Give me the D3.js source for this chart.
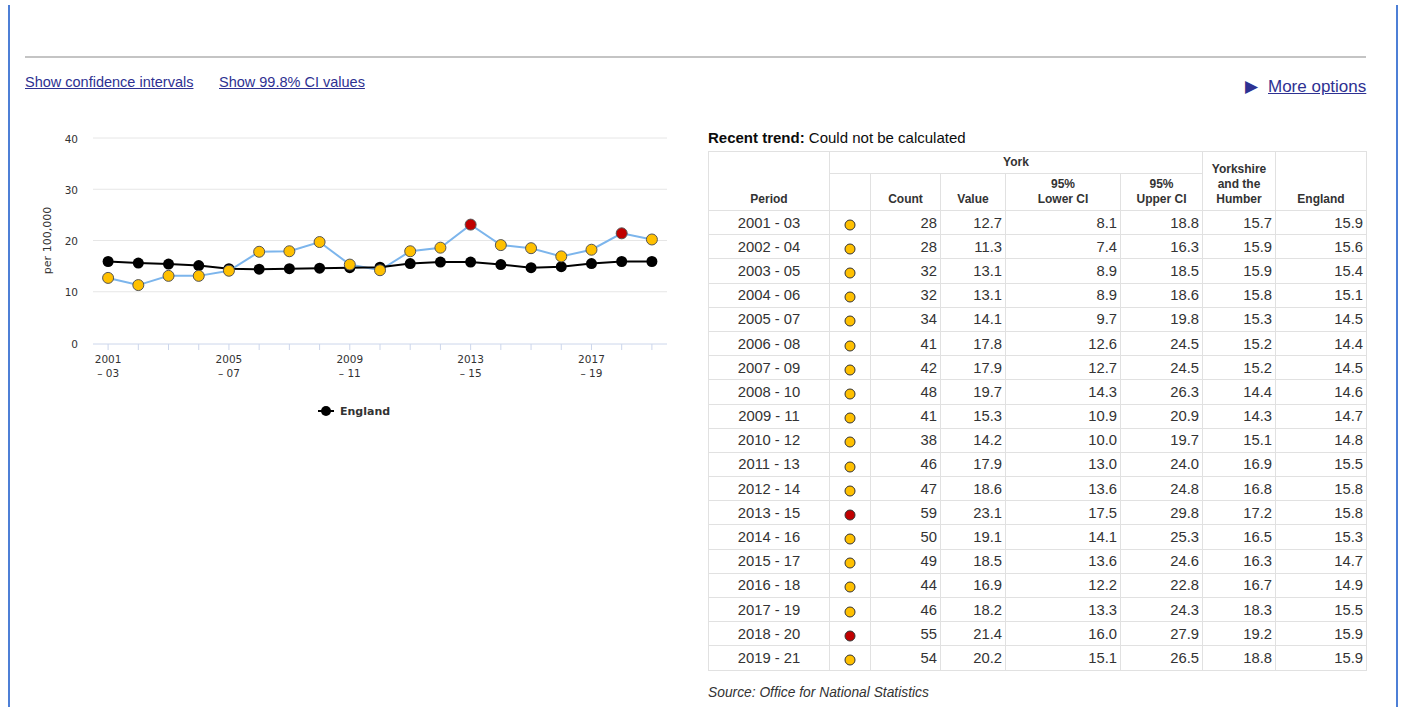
<!DOCTYPE html>
<html>
<head>
<meta charset="utf-8">
<script src="https://cdn.jsdelivr.net/npm/d3@7"></script>
<style>
	body { margin: 0; background: #fff; font-family: "Liberation Sans", Arial, sans-serif; color: #333; }
	#page { position: relative; width: 1403px; height: 707px; overflow: hidden; }
	.frame { position: absolute; top: 5px; bottom: 0; width: 2px; background: #4d7fd6; }
	.rule { position: absolute; left: 25px; top: 56px; width: 1341px; height: 2px; background: #c4c4c4; }
	.link { position: absolute; top: 74px; font-size: 14.5px; color: #2e3192; text-decoration: underline; }
	.more { position: absolute; top: 76px; left: 1245px; font-size: 17px; color: #2e3192; }
	.more span { text-decoration: underline; margin-left: 10px; }
	#chart { position: absolute; left: 0; top: 100px; }
	.trend { position: absolute; left: 708px; top: 129px; font-size: 15px; color: #0b0c0c; }
	table { position: absolute; left: 708px; top: 151px; border-collapse: collapse; font-size: 14.8px; table-layout: fixed; }
	th, td { border: 1px solid #e1e1e1; padding: 0 3px; color: #333; }
	th { font-size: 12px; font-weight: bold; vertical-align: bottom; text-align: center; line-height: 15px; padding-bottom: 3px; }
	td { height: 23.2px; text-align: right; }
	td.period { text-align: center; }
	td.mark { text-align: center; }
	.source { position: absolute; left: 708px; top: 685px; font-size: 13.8px; font-style: italic; color: #333; }
</style>
</head>
<body>
<div id="page">
	<div class="frame" style="left:8px"></div>
	<div class="frame" style="left:1396px"></div>
	<div class="rule"></div>
	<div class="link" style="left:25px">Show confidence intervals</div>
	<div class="link" style="left:219px">Show 99.8% CI values</div>
	<div class="more">&#9654;<span>More options</span></div>
	<svg id="chart" width="700" height="340"></svg>
	<div class="trend"><b>Recent trend:</b> Could not be calculated</div>
	<table id="tbl"></table>
	<div class="source">Source: Office for National Statistics</div>
</div>
<script>
const periods = ['2001 - 03', '2002 - 04', '2003 - 05', '2004 - 06', '2005 - 07', '2006 - 08', '2007 - 09',
	'2008 - 10', '2009 - 11', '2010 - 12', '2011 - 13', '2012 - 14', '2013 - 15', '2014 - 16', '2015 - 17',
	'2016 - 18', '2017 - 19', '2018 - 20', '2019 - 21'];
const count = [28, 28, 32, 32, 34, 41, 42, 48, 41, 38, 46, 47, 59, 50, 49, 44, 46, 55, 54];
const york = [12.7, 11.3, 13.1, 13.1, 14.1, 17.8, 17.9, 19.7, 15.3, 14.2, 17.9, 18.6, 23.1, 19.1, 18.5, 16.9, 18.2, 21.4, 20.2];
const lowerCI = [8.1, 7.4, 8.9, 8.9, 9.7, 12.6, 12.7, 14.3, 10.9, 10.0, 13.0, 13.6, 17.5, 14.1, 13.6, 12.2, 13.3, 16.0, 15.1];
const upperCI = [18.8, 16.3, 18.5, 18.6, 19.8, 24.5, 24.5, 26.3, 20.9, 19.7, 24.0, 24.8, 29.8, 25.3, 24.6, 22.8, 24.3, 27.9, 26.5];
const region = [15.7, 15.9, 15.9, 15.8, 15.3, 15.2, 15.2, 14.4, 14.3, 15.1, 16.9, 16.8, 17.2, 16.5, 16.3, 16.7, 18.3, 19.2, 18.8];
const england = [15.9, 15.6, 15.4, 15.1, 14.5, 14.4, 14.5, 14.6, 14.7, 14.8, 15.5, 15.8, 15.8, 15.3, 14.7, 14.9, 15.5, 15.9, 15.9];
const significance = ['similar', 'similar', 'similar', 'similar', 'similar', 'similar', 'similar', 'similar', 'similar',
	'similar', 'similar', 'similar', 'higher', 'similar', 'similar', 'similar', 'similar', 'higher', 'similar'];
const yTicks = [0, 10, 20, 30, 40];

const colours = d3.scaleOrdinal()
	.domain(['similar', 'higher'])
	.range(['#ffc000', '#c00000']);

// chart (svg sits at page y = 100)
const svg = d3.select('#chart');
const plotLeft = 93, plotRight = 667, plotTop = 38, plotBottom = 243;

const x = d3.scalePoint()
	.domain(periods)
	.range([plotLeft, plotRight])
	.padding(0.5);

const y = d3.scaleLinear()
	.domain([0, 40])
	.range([plotBottom, plotTop]);

svg.append('g')
	.selectAll('line')
	.data(yTicks.slice(1))
	.enter()
	.append('line')
	.attr('x1', plotLeft).attr('x2', plotRight)
	.attr('y1', d => y(d)).attr('y2', d => y(d))
	.attr('stroke', '#e6e6e6');

svg.append('g')
	.selectAll('text')
	.data(yTicks)
	.enter()
	.append('text')
	.attr('x', 78)
	.attr('y', d => y(d) + 4.5)
	.attr('text-anchor', 'end')
	.attr('font-family', 'DejaVu Sans')
	.attr('font-size', 10.5)
	.attr('fill', '#333')
	.text(d => d);

svg.append('text')
	.attr('transform', `translate(51, ${(plotTop + plotBottom) / 2}) rotate(-90)`)
	.attr('text-anchor', 'middle')
	.attr('font-family', 'DejaVu Sans')
	.attr('font-size', 11)
	.attr('fill', '#333')
	.text('per 100,000');

// x axis
svg.append('line')
	.attr('x1', plotLeft).attr('x2', plotRight)
	.attr('y1', plotBottom + 1).attr('y2', plotBottom + 1)
	.attr('stroke', '#ccd6eb');

svg.append('g')
	.selectAll('line')
	.data(periods)
	.enter()
	.append('line')
	.attr('x1', d => x(d)).attr('x2', d => x(d))
	.attr('y1', plotBottom + 1).attr('y2', plotBottom + 7)
	.attr('stroke', '#ccd6eb');

const xLabels = svg.append('g')
	.selectAll('text')
	.data(periods.filter((d, i) => i % 4 == 0))
	.enter()
	.append('text')
	.attr('text-anchor', 'middle')
	.attr('font-family', 'DejaVu Sans')
	.attr('font-size', 10.5)
	.attr('fill', '#333');

xLabels.append('tspan')
	.attr('x', d => x(d))
	.attr('y', plotBottom + 20)
	.text(d => d.slice(0, 4));

xLabels.append('tspan')
	.attr('x', d => x(d))
	.attr('y', plotBottom + 34)
	.text(d => '\u2013 ' + d.slice(-2));

// series
const line = d3.line()
	.x((d, i) => x(periods[i]))
	.y(d => y(d));

svg.append('path')
	.datum(york)
	.attr('d', line)
	.attr('fill', 'none')
	.attr('stroke', '#7cb5ec')
	.attr('stroke-width', 2);

svg.append('path')
	.datum(england)
	.attr('d', line)
	.attr('fill', 'none')
	.attr('stroke', '#000')
	.attr('stroke-width', 2);

svg.append('g')
	.selectAll('circle')
	.data(england)
	.enter()
	.append('circle')
	.attr('cx', (d, i) => x(periods[i]))
	.attr('cy', d => y(d))
	.attr('r', 5.5)
	.attr('fill', '#000');

svg.append('g')
	.selectAll('circle')
	.data(york)
	.enter()
	.append('circle')
	.attr('cx', (d, i) => x(periods[i]))
	.attr('cy', d => y(d))
	.attr('r', 5.5)
	.attr('fill', (d, i) => colours(significance[i]))
	.attr('stroke', '#555')
	.attr('stroke-width', 1);

// legend
const legend = svg.append('g')
	.attr('transform', 'translate(318, 311)');

legend.append('line')
	.attr('x1', 0).attr('x2', 16)
	.attr('stroke', '#000')
	.attr('stroke-width', 2);

legend.append('circle')
	.attr('cx', 8)
	.attr('r', 5)
	.attr('fill', '#000');

legend.append('text')
	.attr('x', 22)
	.attr('y', 4)
	.attr('font-family', 'DejaVu Sans')
	.attr('font-size', 11)
	.attr('font-weight', 700)
	.attr('fill', '#333')
	.text('England');

// table
const table = d3.select('#tbl');
const widths = [121, 41, 70, 65, 115, 82, 73, 91];
table.append('colgroup')
	.selectAll('col')
	.data(widths)
	.enter()
	.append('col')
	.style('width', d => `${d}px`);

const thead = table.append('thead');
const h1 = thead.append('tr').style('height', '22px');
h1.append('th').attr('rowspan', 2).html('Period');
h1.append('th').attr('colspan', 5).style('vertical-align', 'top').style('padding-top', '3px').html('York');
h1.append('th').attr('rowspan', 2).html('Yorkshire<br>and the<br>Humber');
h1.append('th').attr('rowspan', 2).html('England');

const h2 = thead.append('tr').style('height', '37px');
['', 'Count', 'Value', '95%<br>Lower CI', '95%<br>Upper CI']
	.forEach(t => h2.append('th').html(t));

const rows = table.append('tbody')
	.selectAll('tr')
	.data(periods)
	.enter()
	.append('tr');

rows.append('td').attr('class', 'period').text(d => d);
rows.append('td').attr('class', 'mark')
	.append('svg')
	.attr('width', 12).attr('height', 14)
	.style('vertical-align', 'middle')
	.append('circle')
	.attr('cx', 6).attr('cy', 8)
	.attr('r', 5)
	.attr('fill', (d, i) => colours(significance[i]))
	.attr('stroke', '#333')
	.attr('stroke-width', 1);
rows.append('td').text((d, i) => count[i]);
rows.append('td').text((d, i) => york[i].toFixed(1));
rows.append('td').text((d, i) => lowerCI[i].toFixed(1));
rows.append('td').text((d, i) => upperCI[i].toFixed(1));
rows.append('td').text((d, i) => region[i].toFixed(1));
rows.append('td').text((d, i) => england[i].toFixed(1));
</script>
</body>
</html>
